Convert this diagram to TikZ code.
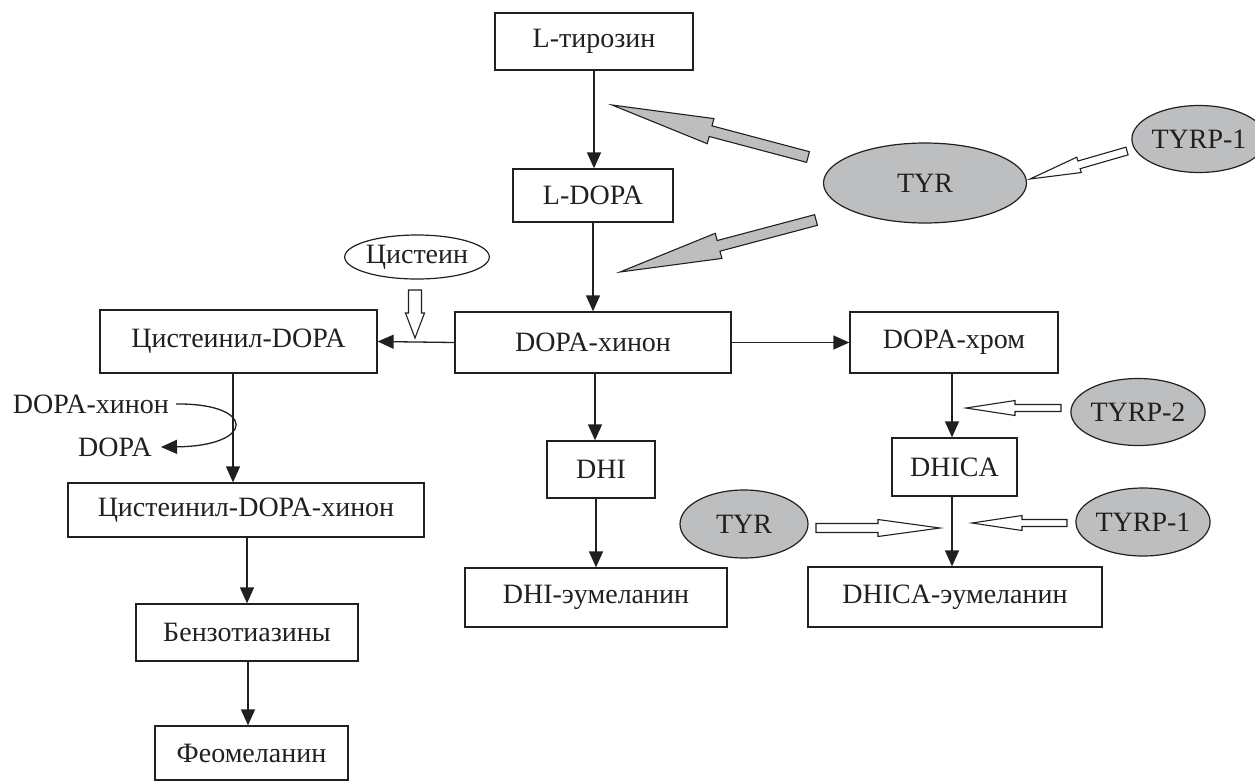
\documentclass[tikz,border=0pt]{standalone}
\usepackage{fontspec}
\setmainfont{Liberation Serif}
\usetikzlibrary{arrows.meta,calc,shapes.geometric}
\definecolor{fillgray}{HTML}{BCBEC0}
\definecolor{ink}{HTML}{231F20}
% block arrow: #1 style, #2 tail, #3 tip, #4 shaft half width, #5 head half width, #6 head length
\newcommand\blockarr[6]{%
  \coordinate (ba-b) at ($(#3)!#6!(#2)$);
  \draw[#1] ($(#2)!#4!90:(#3)$) -- ($(ba-b)!#4!90:(#3)$) -- ($(ba-b)!#5!90:(#3)$)
    -- (#3) -- ($(ba-b)!#5!-90:(#3)$) -- ($(ba-b)!#4!-90:(#3)$) -- ($(#2)!#4!-90:(#3)$) -- cycle;
}
\tikzset{
  box/.style={draw=ink, line width=1.3pt, inner sep=0pt, fill=white, text=ink},
  enz/.style={ellipse, draw=ink, line width=1.2pt, fill=fillgray, inner sep=0pt, text=ink},
  lbl/.style={inner sep=0pt, text=ink},
  flow/.style={draw=ink, line width=1.3pt, -{Triangle[length=16pt,width=14pt]}},
  hollow/.style={draw=ink, line width=1.1pt, fill=white, line join=miter},
  grayarr/.style={draw=ink, line width=1.1pt, fill=fillgray, line join=miter},
}
\begin{document}
\begin{tikzpicture}[x=1pt,y=-1pt,font=\fontsize{28}{33}\selectfont]
\useasboundingbox (0,0) rectangle (1255,780);
% boxes
\node[box, minimum width=198pt, minimum height=57pt] (tyrosine) at (594,41.5) {L-тирозин};
\node[box, minimum width=160pt, minimum height=53pt] (ldopa) at (593,195.5) {L-DOPA};
\node[box, minimum width=276pt, minimum height=61pt] (dq) at (593,342.5) {DOPA-хинон};
\node[box, minimum width=277pt, minimum height=63pt] (cd) at (238.5,341.5) {Цистеинил-DOPA};
\node[box, minimum width=208pt, minimum height=61pt] (dc) at (954,342.5) {DOPA-хром};
\node[box, minimum width=108pt, minimum height=57pt] (dhi) at (601,469.5) {DHI};
\node[box, minimum width=125pt, minimum height=58pt] (dhica) at (954.5,467) {DHICA};
\node[box, minimum width=262pt, minimum height=59pt] (dhie) at (596,597.5) {DHI-эумеланин};
\node[box, minimum width=294pt, minimum height=60pt] (dhicae) at (955,597) {DHICA-эумеланин};
\node[box, minimum width=356pt, minimum height=54pt] (cdq) at (246,510) {Цистеинил-DOPA-хинон};
\node[box, minimum width=222pt, minimum height=57pt] (benz) at (247,632.5) {Бензотиазины};
\node[box, minimum width=193pt, minimum height=54pt] (feo) at (251.5,753) {Феомеланин};
% ellipses
\node[enz, minimum width=203pt, minimum height=80pt] (tyr1) at (925,183) {TYR};
\node[enz, minimum width=128pt, minimum height=67pt] (tyrp1a) at (1199,139) {TYRP-1};
\node[enz, fill=white, minimum width=141pt, minimum height=44pt] (cys) at (417,257) {Цистеин};
\node[enz, minimum width=127pt, minimum height=67pt] (tyrp2) at (1138,412) {TYRP-2};
\node[enz, minimum width=130pt, minimum height=68pt] (tyrp1b) at (1143,522) {TYRP-1};
\node[enz, minimum width=128pt, minimum height=68pt] (tyr2) at (744,524) {TYR};
% side labels
\node[lbl, anchor=east] (lq) at (169,404) {DOPA-хинон};
\node[lbl, anchor=east] (ld) at (152,447) {DOPA};
% flow arrows
\draw[flow] (tyrosine.south) -- (tyrosine.south |- ldopa.north);
\draw[flow] (ldopa.south) -- (ldopa.south |- dq.north);
\draw[flow] (dq.west) -- (cd.east);
\draw[flow] (dq.east) -- (dc.west);
\draw[flow] ([xshift=2pt]dq.south) -- ([xshift=2pt]dq.south |- dhi.north);
\draw[flow] (dhi.south -| dhie.north) -- (dhie.north);
\draw[flow] ([xshift=-2pt]dc.south) -- ([xshift=-2pt]dc.south |- dhica.north);
\draw[flow] ([xshift=-2.5pt]dhica.south) -- ([xshift=-2.5pt]dhica.south |- dhicae.north);
\draw[flow] ([xshift=-5.5pt]cd.south) -- ([xshift=-5.5pt]cd.south |- cdq.north);
\draw[flow] (benz.north |- cdq.south) -- (benz.north);
\draw[flow] ([xshift=1pt]benz.south) -- ([xshift=1pt]benz.south |- feo.north);
% curved side reaction
\coordinate (cs) at ([xshift=7pt]lq.east);
\coordinate (ce) at ([xshift=9pt]ld.east);
\draw[flow] (cs) .. controls (256,403) and (256,446) .. (ce);
% block arrow coordinates
\coordinate (g1t) at (808,157); \coordinate (g1h) at (612,105);
\coordinate (g2t) at (816,220); \coordinate (g2h) at (620,272);
\coordinate (w1t) at (1127,151); \coordinate (w1h) at (1030,179);
\coordinate (w2t) at (1061,408); \coordinate (w2h) at (966,408);
\coordinate (w3t) at (1067,523); \coordinate (w3h) at (972,523);
\coordinate (w4t) at (816,528); \coordinate (w4h) at (940,528);
\coordinate (w5t) at (415,290); \coordinate (w5h) at (415,338);
\blockarr{grayarr}{g1t}{g1h}{5.5pt}{13pt}{102pt}
\blockarr{grayarr}{g2t}{g2h}{5.5pt}{13pt}{102pt}
\blockarr{hollow}{w1t}{w1h}{4pt}{8pt}{51pt}
\blockarr{hollow}{w2t}{w2h}{3.5pt}{7.5pt}{49pt}
\blockarr{hollow}{w3t}{w3h}{3.5pt}{7.5pt}{50pt}
\blockarr{hollow}{w4t}{w4h}{4.5pt}{8.5pt}{62pt}
\blockarr{hollow}{w5t}{w5h}{6.5pt}{9.5pt}{25pt}
\end{tikzpicture}
\end{document}
